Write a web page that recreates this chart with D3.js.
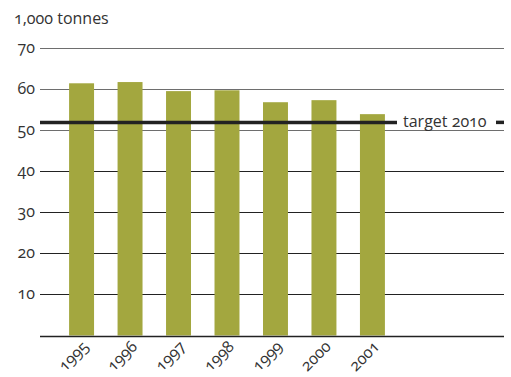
<!DOCTYPE html>
<html>
<head>
<meta charset="utf-8">
<script src="https://cdn.jsdelivr.net/npm/d3@7"></script>
<style>
  html, body { margin: 0; padding: 0; background: #fff; }
  svg text { font-family: "Open Sans", Lato, sans-serif; fill: #333; font-feature-settings: "onum" 1; font-variant-numeric: oldstyle-nums; }
</style>
</head>
<body>
<svg id="chart" width="511" height="377"></svg>
<script>
// Annual quantity, thousand tonnes
const years = ["1995", "1996", "1997", "1998", "1999", "2000", "2001"];
const values = [61.3, 61.6, 59.4, 59.6, 56.7, 57.2, 53.8];
const yTicks = [10, 20, 30, 40, 50, 60, 70];
const target = 51.8;
const targetLabel = "target 2010";
const unitLabel = "1,000 tonnes";

const svg = d3.select("#chart");
const plotLeft = 40, plotRight = 504, plotTop = 47.5, plotBottom = 335.5;
const fontSize = 16;

const y = d3.scaleLinear().domain([0, 70]).range([plotBottom, plotTop]);
const x = d3.scaleBand().domain(years).range([plotLeft, 414])
  .paddingInner(0.485).paddingOuter(0.6);

// gridlines
svg.append("g").selectAll("line").data(yTicks).join("line")
  .attr("x1", plotLeft).attr("x2", plotRight)
  .attr("y1", d => Math.round(y(d)) + 0.5).attr("y2", d => Math.round(y(d)) + 0.5)
  .attr("stroke", d => d >= 50 ? "#6e6e6e" : "#222")
  .attr("stroke-width", 1.2);

// y tick labels
svg.append("g").selectAll("text").data(yTicks).join("text")
  .attr("x", 35).attr("y", d => y(d) + 5)
  .attr("text-anchor", "end")
  .attr("font-size", fontSize)
  .text(d => d);

svg.append("text").attr("x", 14).attr("y", 24).attr("font-size", fontSize).text(unitLabel);

// bars
svg.append("g").selectAll("rect").data(values).join("rect")
  .attr("x", (d, i) => x(years[i]))
  .attr("width", x.bandwidth())
  .attr("y", d => y(d))
  .attr("height", d => y(0) - y(d))
  .attr("fill", "#a3a73f");

// baseline
svg.append("line")
  .attr("x1", plotLeft).attr("x2", plotRight)
  .attr("y1", Math.round(y(0)) + 0.5).attr("y2", Math.round(y(0)) + 0.5)
  .attr("stroke", "#222").attr("stroke-width", 1.5);

// target line with label
const ty = y(target);
svg.append("line").attr("x1", plotLeft).attr("x2", 397).attr("y1", ty).attr("y2", ty)
  .attr("stroke", "#222").attr("stroke-width", 3.5);
svg.append("line").attr("x1", 496).attr("x2", 504).attr("y1", ty).attr("y2", ty)
  .attr("stroke", "#222").attr("stroke-width", 3.5);
svg.append("text").attr("x", 403).attr("y", ty + 5).attr("font-size", fontSize).text(targetLabel);

// x labels
svg.append("g").selectAll("text").data(years).join("text")
  .attr("transform", d => `translate(${x(d) + x.bandwidth() / 2 + 8},${plotBottom + 12}) rotate(-45)`)
  .attr("text-anchor", "end")
  .attr("font-size", fontSize)
  .text(d => d);
</script>
</body>
</html>
